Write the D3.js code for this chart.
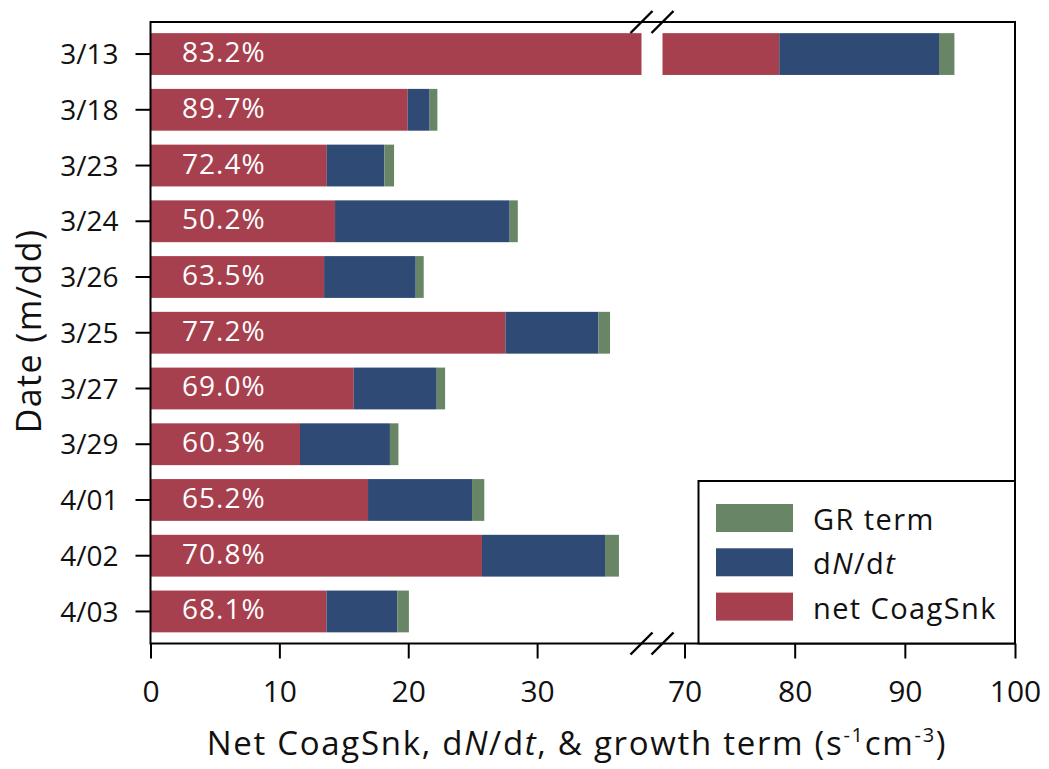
<!DOCTYPE html>
<html>
<head>
<meta charset="utf-8">
<script src="https://cdn.jsdelivr.net/npm/d3@7"></script>
<style>
  html, body { margin: 0; padding: 0; background: #fff; }
  svg { display: block; font-family: "Open Sans", sans-serif; }
</style>
</head>
<body>
<svg id="chart" width="1049" height="769"></svg>
<script>
// Sampling dates (rows, top to bottom)
const dates = ["3/13", "3/18", "3/23", "3/24", "3/26", "3/25", "3/27", "3/29", "4/01", "4/02", "4/03"];
// Net coagulation sink (s^-1 cm^-3)
const coagSnk = [78.6, 19.96, 13.68, 14.32, 13.47, 27.54, 15.77, 11.6, 16.88, 25.72, 13.65];
// dN/dt term
const dNdt = [14.5, 1.7, 4.47, 13.55, 7.11, 7.22, 6.44, 6.98, 8.07, 9.55, 5.5];
// growth (GR) term
const grTerm = [1.4, 0.6, 0.75, 0.63, 0.62, 0.9, 0.65, 0.66, 0.95, 1.08, 0.9];
// axis ticks on both sides of the break
const ticksLow = [0, 10, 20, 30];
const ticksHigh = [70, 80, 90, 100];

const seriesNames = ["net CoagSnk", "dN/dt", "GR term"];
const seriesColors = ["#A7404E", "#2F4A74", "#688566"];

const svg = d3.select("#chart");
const plotTop = 22, plotBottom = 643.5, plotLeft = 150.5, plotRight = 1015;

// broken x axis: two linear pieces
const breakLo = 38.1, breakHi = 68;
const xL = d3.scaleLinear().domain([0, breakLo]).range([plotLeft, 641.5]);
const xR = d3.scaleLinear().domain([breakHi, 100]).range([662.5, plotRight]);

const y = d3.scaleBand().domain(dates).range([plotTop, plotBottom]).paddingInner(0.25).paddingOuter(0.2);

// stacked rows
const rows = dates.map((d, i) => {
  const vals = [coagSnk[i], dNdt[i], grTerm[i]];
  let acc = 0;
  const segs = vals.map((v, k) => { const s = { x0: acc, x1: acc + v, k }; acc += v; return s; });
  return { date: d, segs, total: acc, share: coagSnk[i] / acc * 100 };
});

// split a segment across the two axis pieces
function pieces(s) {
  const out = [];
  if (s.x0 < breakLo) out.push({ x: xL(s.x0), w: xL(Math.min(s.x1, breakLo)) - xL(s.x0) });
  if (s.x1 > breakHi) { const a = Math.max(s.x0, breakHi); out.push({ x: xR(a), w: xR(s.x1) - xR(a) }); }
  return out;
}

const gBars = svg.append("g");
rows.forEach(r => {
  r.segs.forEach(s => {
    pieces(s).forEach(p => {
      gBars.append("rect")
        .attr("x", p.x).attr("y", y(r.date))
        .attr("width", p.w).attr("height", y.bandwidth())
        .attr("fill", seriesColors[s.k]);
    });
  });
  gBars.append("text")
    .attr("x", 182).attr("y", y(r.date) + y.bandwidth() / 2 + 8)
    .attr("fill", "#fff").attr("font-size", 28).attr("letter-spacing", 1)
    .text(r.share.toFixed(1) + "%");
});

// frame
const frame = svg.append("g").attr("stroke", "#000").attr("stroke-width", 2).attr("fill", "none");
frame.append("rect").attr("x", plotLeft).attr("y", plotTop).attr("width", plotRight - plotLeft).attr("height", plotBottom - plotTop);

// y axis ticks and labels
const yAxis = d3.axisLeft(y).tickSize(15).tickPadding(17);
const gy = svg.append("g").attr("transform", `translate(${plotLeft},0)`).call(yAxis);
gy.select(".domain").remove();
gy.selectAll(".tick line").attr("stroke", "#000").attr("stroke-width", 2);
gy.selectAll(".tick text").attr("font-size", 28).attr("font-family", "Open Sans").attr("fill", "#111").attr("dy", "0.36em");

// x axis pieces
function xAxisPiece(scale, ticks) {
  const g = svg.append("g").attr("transform", `translate(0,${plotBottom})`)
    .call(d3.axisBottom(scale).tickValues(ticks).tickSize(15).tickPadding(22).tickFormat(d3.format("d")));
  g.select(".domain").remove();
  g.selectAll(".tick line").attr("stroke", "#000").attr("stroke-width", 2);
  g.selectAll(".tick text").attr("font-size", 30).attr("font-family", "Open Sans").attr("fill", "#111");
}
xAxisPiece(xL, ticksLow);
xAxisPiece(xR, ticksHigh);

// break marks on top and bottom edges
[plotTop, plotBottom].forEach(yy => {
  [641.5, 662.5].forEach(cx => {
    svg.append("line")
      .attr("x1", cx - 11).attr("y1", yy + 11).attr("x2", cx + 11).attr("y2", yy - 11)
      .attr("stroke", "#000").attr("stroke-width", 2.4);
  });
});

// legend (box shares right and bottom edges with the frame)
const lg = svg.append("g");
lg.append("rect").attr("x", 698.5).attr("y", 481).attr("width", plotRight - 698.5).attr("height", plotBottom - 481)
  .attr("fill", "#fff").attr("stroke", "#000").attr("stroke-width", 2);
const legendOrder = [2, 1, 0];
legendOrder.forEach((k, i) => {
  const yy = 504 + i * 44.3;
  lg.append("rect").attr("x", 716).attr("y", yy).attr("width", 77).attr("height", 28).attr("fill", seriesColors[k]);
  const t = lg.append("text").attr("x", 813).attr("y", yy + 26).attr("font-size", 29)
    .attr("letter-spacing", 1.4).attr("fill", "#111");
  if (k === 1) {
    t.append("tspan").text("d");
    t.append("tspan").attr("font-style", "italic").text("N");
    t.append("tspan").text("/d");
    t.append("tspan").attr("font-style", "italic").text("t");
  } else {
    t.text(seriesNames[k]);
  }
});

// axis titles
const xt = svg.append("text").attr("x", 577).attr("y", 755).attr("text-anchor", "middle")
  .attr("font-size", 33).attr("letter-spacing", 1.7).attr("fill", "#111");
xt.append("tspan").text("Net CoagSnk, d");
xt.append("tspan").attr("font-style", "italic").text("N");
xt.append("tspan").text("/d");
xt.append("tspan").attr("font-style", "italic").text("t");
xt.append("tspan").text(", & growth term (s");
xt.append("tspan").attr("font-size", 20).attr("dy", -13).text("-1");
xt.append("tspan").attr("dy", 13).text("cm");
xt.append("tspan").attr("font-size", 20).attr("dy", -13).text("-3");
xt.append("tspan").attr("dy", 13).text(")");

svg.append("text").attr("transform", "translate(41,331) rotate(-90)").attr("text-anchor", "middle")
  .attr("font-size", 34).attr("letter-spacing", 1.4).attr("fill", "#111").text("Date (m/dd)");
</script>
</body>
</html>
